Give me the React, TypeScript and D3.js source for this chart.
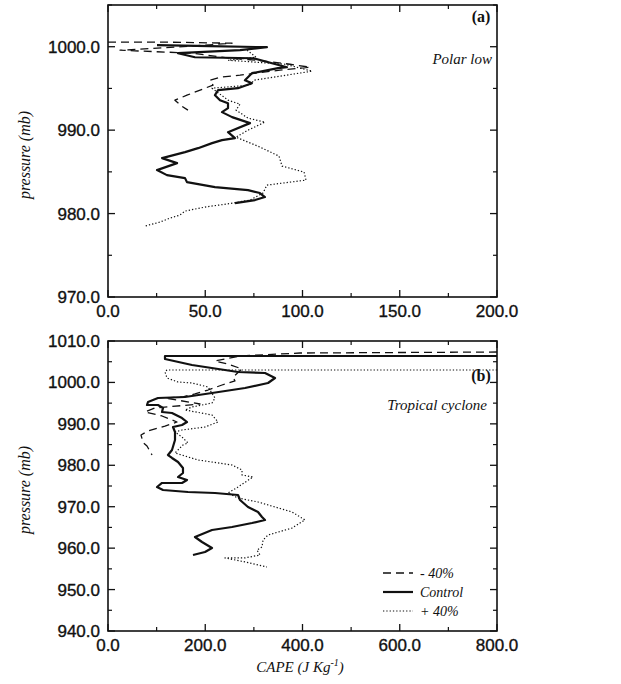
import React from 'react';
import * as d3 from 'd3';

// ---------- Data (CAPE in J/kg, pressure in mb) ----------
const polarControl: [number, number][] = [
  [25.2, 1000.18], [52.4, 1000.06], [81.7, 999.94], [67.9, 999.58], [36.0, 999.22], [44.7, 998.74],
  [74.6, 998.62], [92.0, 997.54], [87.4, 997.43], [74.0, 996.83], [70.4, 995.99], [74.0, 995.63],
  [66.8, 995.03], [56.6, 994.79], [55.0, 994.19], [57.6, 993.59], [61.7, 993.23], [61.7, 992.63],
  [58.6, 992.16], [63.8, 991.56], [73.0, 990.84], [61.7, 989.76], [65.3, 989.04], [58.6, 988.8],
  [53.5, 988.44], [46.3, 987.84], [39.6, 987.37], [27.8, 986.65], [35.5, 986.05], [25.2, 985.21],
  [30.3, 984.61], [39.6, 984.25], [40.6, 983.77], [55.0, 983.17], [72.0, 982.81], [78.1, 982.46],
  [80.7, 981.98], [75.6, 981.62], [65.3, 981.26],
];
const polarMinus40: [number, number][] = [
  [0, 1000.54], [31.9, 1000.54], [63.8, 1000.42], [42.2, 1000.06], [6.2, 999.58], [43.7, 999.22],
  [62.7, 998.62], [76.6, 998.38], [93.6, 997.9], [103.9, 997.54], [88.4, 997.19], [67.9, 996.59],
  [57.6, 996.35], [52.4, 995.99], [54.0, 995.39], [49.9, 995.03], [40.6, 994.19], [34.4, 993.59],
  [38.0, 992.87], [41.1, 992.4],
];
const polarPlus40: [number, number][] = [
  [71.5, 999.58], [76.1, 998.74], [61.7, 998.38], [91.0, 997.9], [104.9, 997.07], [75.1, 995.99],
  [73.0, 995.39], [53.5, 995.03], [61.7, 993.59], [67.9, 993.11], [65.8, 992.4], [72.0, 991.44],
  [80.7, 990.96], [72.0, 990.0], [65.8, 989.16], [77.1, 988.08], [87.9, 986.89], [89.5, 985.69],
  [100.8, 984.97], [101.8, 984.01], [81.7, 983.41], [79.7, 982.46], [73.0, 981.62], [64.3, 981.26],
  [49.9, 980.78], [39.6, 980.3], [37.0, 979.82], [31.9, 979.46], [26.7, 978.98], [19.0, 978.5],
];

const tropControl: [number, number][] = [
  [800, 1006.38], [117.2, 1006.38], [117.2, 1005.66], [172.8, 1004.21], [267.4, 1002.52], [322.9, 1002.28],
  [343.5, 1001.07], [329.1, 999.86], [281.8, 998.66], [213.9, 997.45], [158.4, 996.48], [102.8, 996.24],
  [82.3, 995.28], [80.2, 994.55], [102.8, 994.55], [113.1, 993.83], [111.1, 992.86], [131.6, 992.62],
  [152.2, 991.41], [162.5, 990.45], [152.2, 989.72], [133.7, 989.24], [137.8, 988.04], [137.8, 986.1],
  [131.6, 983.69], [123.4, 982.48], [131.6, 981.76], [144.0, 980.79], [154.2, 979.34], [154.2, 978.14],
  [144.0, 977.17], [162.5, 976.45], [152.2, 975.73], [111.1, 975.73], [100.8, 974.76], [113.1, 974.04],
  [164.5, 973.55], [220.1, 973.31], [267.4, 972.83], [271.5, 971.62], [287.9, 969.93], [308.5, 968.73],
  [316.7, 967.52], [322.9, 966.8], [296.2, 966.07], [255.0, 965.11], [213.9, 964.38], [178.9, 962.69],
  [193.3, 961.48], [213.9, 960.04], [199.5, 959.07], [174.8, 958.35],
];
const tropMinus40: [number, number][] = [
  [800, 1007.34], [394.9, 1007.1], [271.5, 1006.38], [220.1, 1005.17], [246.8, 1004.45], [275.6, 1003.24],
  [257.1, 1001.31], [261.2, 1000.35], [234.5, 999.38], [205.7, 998.17], [178.9, 997.21], [152.2, 996.48],
  [117.2, 996.24], [189.2, 994.79], [96.7, 993.83], [76.1, 992.86], [111.1, 991.9], [141.9, 990.45],
  [117.2, 989.48], [82.3, 988.28], [67.9, 987.31], [72.0, 985.52], [80.2, 984.66], [90.5, 982.48],
];
const tropPlus40: [number, number][] = [
  [800, 1003.0], [121.3, 1003.0], [117.2, 1002.52], [121.3, 1001.07], [144.0, 1000.1], [172.8, 999.86],
  [205.7, 998.9], [220.1, 996.24], [213.9, 995.03], [172.8, 994.07], [158.4, 993.35], [213.9, 992.14],
  [226.2, 990.45], [199.5, 989.24], [152.2, 988.52], [137.8, 988.04], [152.2, 986.83], [164.5, 985.38],
  [154.2, 984.9], [137.8, 982.97], [185.1, 981.28], [255.0, 980.07], [275.6, 978.86], [275.6, 977.66],
  [298.2, 977.17], [267.4, 974.76], [246.8, 973.31], [267.4, 972.1], [308.5, 971.14], [378.4, 968.73],
  [405.1, 966.8], [378.4, 964.85], [329.1, 963.17], [318.8, 961.97], [316.7, 960.28], [306.4, 959.55],
  [312.6, 958.35], [281.8, 957.64], [240.6, 957.64], [281.8, 956.67], [327.0, 955.45],
];

const polarXTicks = [0, 50, 100, 150, 200];
const polarXMinor = [25, 75, 125, 175];
const polarYTicks = [970, 980, 990, 1000];
const polarYMinor = [975, 985, 995, 1005];
const tropXTicks = [0, 200, 400, 600, 800];
const tropXMinor = [100, 300, 500, 700];
const tropYTicks = [940, 950, 960, 970, 980, 990, 1000, 1010];
const tropYMinor = [945, 955, 965, 975, 985, 995, 1005];

const legendLabels = ['- 40%', 'Control', '+ 40%'];

const STYLES = {
  solid: { strokeWidth: 2.2, dash: undefined as string | undefined },
  dashed: { strokeWidth: 1.3, dash: '8,5' },
  dotted: { strokeWidth: 1.2, dash: '1.3,2' },
};

const tickFont = { fontFamily: 'Liberation Sans, Arial, sans-serif', fontSize: 17, stroke: '#111', strokeWidth: 0.35 };
const serif = 'Liberation Serif, Times New Roman, serif';
const fmt = d3.format('.1f');

type PanelProps = {
  id: string;
  left: number; right: number; top: number; bottom: number;
  xDomain: [number, number]; yDomain: [number, number];
  xTicks: number[]; xMinor: number[]; yTicks: number[]; yMinor: number[];
  series: { data: [number, number][]; style: keyof typeof STYLES }[];
};

function Panel(p: PanelProps) {
  const x = d3.scaleLinear().domain(p.xDomain).range([p.left, p.right]);
  const y = d3.scaleLinear().domain(p.yDomain).range([p.bottom, p.top]);
  const line = d3.line<[number, number]>().x(d => x(d[0])).y(d => y(d[1])).curve(d3.curveLinear);
  const maj = 7, min = 4;
  return (
    <g>
      <defs>
        <clipPath id={`clip-${p.id}`}>
          <rect x={p.left} y={p.top} width={p.right - p.left} height={p.bottom - p.top} />
        </clipPath>
      </defs>
      <g clipPath={`url(#clip-${p.id})`}>
        {p.series.map((s, i) => (
          <path key={i} d={line(s.data) || ''} fill="none" stroke="#111"
            strokeWidth={STYLES[s.style].strokeWidth} strokeDasharray={STYLES[s.style].dash}
            strokeLinejoin="round" />
        ))}
      </g>
      <rect x={p.left} y={p.top} width={p.right - p.left} height={p.bottom - p.top}
        fill="none" stroke="#111" strokeWidth={1.6} />
      {p.xTicks.map(t => (
        <g key={'xt' + t}>
          <line x1={x(t)} x2={x(t)} y1={p.bottom} y2={p.bottom - maj} stroke="#111" strokeWidth={1.3} />
          <line x1={x(t)} x2={x(t)} y1={p.top} y2={p.top + maj} stroke="#111" strokeWidth={1.3} />
          <text x={x(t)} y={p.bottom + 20} textAnchor="middle" {...tickFont} fill="#111">{fmt(t)}</text>
        </g>
      ))}
      {p.xMinor.map(t => (
        <g key={'xm' + t}>
          <line x1={x(t)} x2={x(t)} y1={p.bottom} y2={p.bottom - min} stroke="#111" strokeWidth={1.2} />
          <line x1={x(t)} x2={x(t)} y1={p.top} y2={p.top + min} stroke="#111" strokeWidth={1.2} />
        </g>
      ))}
      {p.yTicks.map(t => (
        <g key={'yt' + t}>
          <line x1={p.left} x2={p.left + maj} y1={y(t)} y2={y(t)} stroke="#111" strokeWidth={1.3} />
          <line x1={p.right} x2={p.right - maj} y1={y(t)} y2={y(t)} stroke="#111" strokeWidth={1.3} />
          <text x={p.left - 8} y={y(t) + 6} textAnchor="end" {...tickFont} fill="#111">{fmt(t)}</text>
        </g>
      ))}
      {p.yMinor.map(t => (
        <g key={'ym' + t}>
          <line x1={p.left} x2={p.left + min} y1={y(t)} y2={y(t)} stroke="#111" strokeWidth={1.2} />
          <line x1={p.right} x2={p.right - min} y1={y(t)} y2={y(t)} stroke="#111" strokeWidth={1.2} />
        </g>
      ))}
    </g>
  );
}

export default function App() {
  const W = 621, H = 684;
  const legendY = [573, 592, 611];
  const legendStyles: (keyof typeof STYLES)[] = ['dashed', 'solid', 'dotted'];
  return (
    <svg width={W} height={H} viewBox={`0 0 ${W} ${H}`}
      style={{ position: 'absolute', left: 0, top: 0, background: '#fff' }}>
      <rect width={W} height={H} fill="#fff" />
      <Panel id="a" left={108} right={497} top={5} bottom={297}
        xDomain={[0, 200]} yDomain={[970, 1005]}
        xTicks={polarXTicks} xMinor={polarXMinor} yTicks={polarYTicks} yMinor={polarYMinor}
        series={[
          { data: polarMinus40, style: 'dashed' },
          { data: polarPlus40, style: 'dotted' },
          { data: polarControl, style: 'solid' },
        ]} />
      <Panel id="b" left={108} right={497} top={341} bottom={631}
        xDomain={[0, 800]} yDomain={[940, 1010]}
        xTicks={tropXTicks} xMinor={tropXMinor} yTicks={tropYTicks} yMinor={tropYMinor}
        series={[
          { data: tropMinus40, style: 'dashed' },
          { data: tropPlus40, style: 'dotted' },
          { data: tropControl, style: 'solid' },
        ]} />

      <text transform="translate(30,155) rotate(-90)" textAnchor="middle" fontFamily={serif}
        fontStyle="italic" fontSize={16} fill="#111">pressure (mb)</text>
      <text transform="translate(30,490) rotate(-90)" textAnchor="middle" fontFamily={serif}
        fontStyle="italic" fontSize={16} fill="#111">pressure (mb)</text>

      <text x={481} y={22} textAnchor="middle" fontFamily={serif} fontWeight="bold" fontSize={16} fill="#111">(a)</text>
      <text x={492} y={64} textAnchor="end" fontFamily={serif} fontStyle="italic" fontSize={15} fill="#111">Polar low</text>
      <text x={481} y={381} textAnchor="middle" fontFamily={serif} fontWeight="bold" fontSize={16} fill="#111">(b)</text>
      <text x={487} y={410} textAnchor="end" fontFamily={serif} fontStyle="italic" fontSize={15} fill="#111">Tropical cyclone</text>

      {legendLabels.map((l, i) => (
        <g key={l}>
          <line x1={383} x2={413} y1={legendY[i]} y2={legendY[i]} stroke="#111"
            strokeWidth={STYLES[legendStyles[i]].strokeWidth} strokeDasharray={STYLES[legendStyles[i]].dash} />
          <text x={420} y={legendY[i] + 5} fontFamily={serif} fontStyle="italic" fontSize={14} fill="#111">{l}</text>
        </g>
      ))}

      <text x={300} y={672} textAnchor="middle" fontFamily={serif} fontStyle="italic" fontSize={15} fill="#111">
        CAPE (J Kg<tspan dy={-6} fontSize={10}>-1</tspan><tspan dy={6}>)</tspan>
      </text>
    </svg>
  );
}
